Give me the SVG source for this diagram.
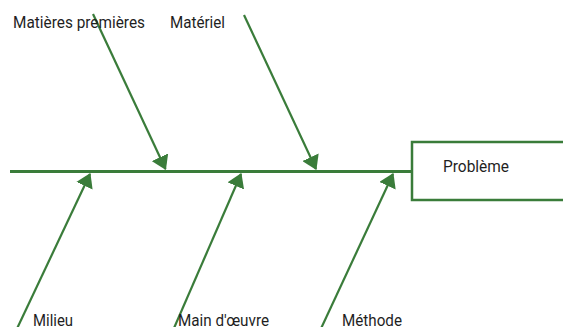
<svg xmlns="http://www.w3.org/2000/svg" width="563" height="327" viewBox="0 0 563 327">
  <style>
    .lbl { font-family: Roboto, "Liberation Sans", sans-serif; font-size: 16px; fill: #1f1f1f; }
    .bone { stroke: #3a7c3a; stroke-width: 2.2; fill: none; }
    .spine { stroke: #3a7c3a; stroke-width: 3; fill: none; }
    .box { stroke: #3a7c3a; stroke-width: 2.5; fill: #ffffff; }
  </style>
  <defs>
    <marker id="arr" viewBox="0 0 14 18" refX="13" refY="9" markerWidth="14" markerHeight="18" markerUnits="userSpaceOnUse" orient="auto">
      <path d="M0,0 L14,9 L0,18 z" fill="#3a7c3a"/>
    </marker>
  </defs>
  <g id="connectors">
    <line class="spine" x1="10" y1="171.5" x2="412" y2="171.5"/>
    <line class="bone" x1="93" y1="14" x2="165.5" y2="169" marker-end="url(#arr)"/>
    <line class="bone" x1="244" y1="15" x2="316" y2="169" marker-end="url(#arr)"/>
    <line class="bone" x1="14" y1="335" x2="90" y2="174" marker-end="url(#arr)"/>
    <line class="bone" x1="171" y1="335" x2="241" y2="174" marker-end="url(#arr)"/>
    <line class="bone" x1="318" y1="335" x2="393" y2="174" marker-end="url(#arr)"/>
  </g>
  <g id="probleme">
    <rect class="box" x="412" y="142" width="170" height="58"/>
    <text class="lbl" x="443" y="172" textLength="66" lengthAdjust="spacingAndGlyphs">Problème</text>
  </g>
  <g id="matieres">
    <text class="lbl" x="13" y="28" textLength="132" lengthAdjust="spacingAndGlyphs">Matières premières</text>
  </g>
  <g id="materiel">
    <text class="lbl" x="170" y="28" textLength="55" lengthAdjust="spacingAndGlyphs">Matériel</text>
  </g>
  <g id="milieu">
    <text class="lbl" x="33" y="325.5" textLength="40" lengthAdjust="spacingAndGlyphs">Milieu</text>
  </g>
  <g id="main">
    <text class="lbl" x="178" y="325.5" textLength="91" lengthAdjust="spacingAndGlyphs">Main d'œuvre</text>
  </g>
  <g id="methode">
    <text class="lbl" x="342" y="325.5" textLength="60" lengthAdjust="spacingAndGlyphs">Méthode</text>
  </g>
</svg>
